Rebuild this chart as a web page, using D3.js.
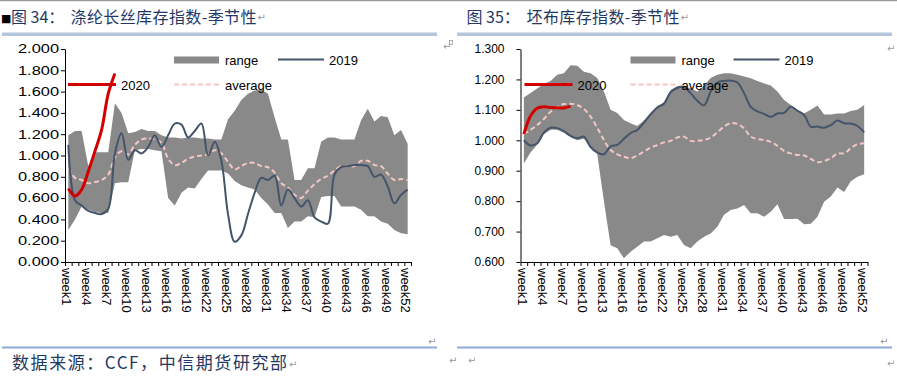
<!DOCTYPE html>
<html>
<head>
<meta charset="utf-8">
<script src="https://cdn.jsdelivr.net/npm/d3@7"></script>
<style>
body { margin: 0; background: #fff; }
text { font-family: "Liberation Sans", Arial, sans-serif; }
.cjk { font-family: "Noto Sans CJK SC", sans-serif; }
</style>
</head>
<body>
<div id="chart"></div>
<script>
// categories
const weeks = d3.range(1, 53).map(i => "week" + i);
const tickWeeks = weeks.filter((d, i) => i % 3 === 0);

// 图34 涤纶长丝库存指数
const pfTicks = [0, 0.2, 0.4, 0.6, 0.8, 1.0, 1.2, 1.4, 1.6, 1.8, 2.0];
const pfUpper = [1.19,1.23,1.23,0.90,1.03,1.03,1.03,1.49,1.40,1.21,1.22,1.25,1.23,1.23,1.19,1.17,1.17,1.16,1.17,1.17,1.16,1.16,1.15,1.15,1.34,1.42,1.52,1.58,1.61,1.62,1.58,1.36,1.15,1.15,0.77,0.77,0.88,0.88,1.13,1.17,1.17,1.15,1.15,1.15,1.33,1.44,1.32,1.37,1.36,1.19,1.24,1.11];
const pfLower = [0.30,0.40,0.52,0.49,0.47,0.46,0.46,0.74,0.75,0.75,1.05,1.06,1.06,1.05,1.04,0.60,0.53,0.65,0.70,0.69,0.78,0.86,0.86,0.86,0.83,0.76,0.72,0.70,0.68,0.60,0.54,0.46,0.46,0.32,0.38,0.38,0.43,0.42,0.61,0.62,0.62,0.52,0.52,0.52,0.49,0.43,0.43,0.38,0.36,0.30,0.27,0.26];
const pfAvg = [0.88,0.79,0.77,0.74,0.75,0.77,0.82,0.98,1.04,1.01,1.10,1.15,1.16,1.15,1.12,0.97,0.91,0.93,0.97,0.99,1.00,1.01,1.05,1.02,0.94,0.87,0.90,0.93,0.93,0.90,0.89,0.84,0.74,0.70,0.63,0.60,0.67,0.73,0.78,0.81,0.86,0.90,0.90,0.90,0.95,0.95,0.91,0.90,0.83,0.77,0.78,0.77];
const pf2019 = [1.10,0.58,0.53,0.48,0.46,0.45,0.50,1.02,1.21,0.96,1.05,1.02,1.08,1.19,1.08,1.19,1.30,1.29,1.17,1.23,1.30,1.00,1.13,0.95,0.45,0.19,0.25,0.45,0.65,0.79,0.77,0.81,0.53,0.68,0.60,0.52,0.58,0.42,0.38,0.36,0.82,0.89,0.90,0.91,0.91,0.90,0.80,0.82,0.71,0.55,0.63,0.68];
const pf2020 = [0.69,0.62,0.68,0.85,1.04,1.24,1.58,1.77];

// 图35 坯布库存指数
const gfTicks = [0.6, 0.7, 0.8, 0.9, 1.0, 1.1, 1.2, 1.3];
const gfUpper = [1.141,1.155,1.17,1.185,1.195,1.215,1.22,1.247,1.245,1.225,1.22,1.205,1.16,1.10,1.09,1.067,1.056,1.047,1.065,1.09,1.112,1.125,1.165,1.178,1.18,1.17,1.16,1.18,1.205,1.215,1.22,1.22,1.215,1.21,1.204,1.195,1.187,1.18,1.16,1.132,1.116,1.10,1.088,1.10,1.114,1.085,1.085,1.088,1.088,1.096,1.10,1.116];
const gfLower = [0.924,0.96,0.985,1.02,1.035,1.035,1.025,1.01,1.0,1.005,0.975,0.955,0.80,0.655,0.645,0.612,0.634,0.65,0.667,0.667,0.678,0.689,0.683,0.689,0.656,0.645,0.667,0.683,0.694,0.716,0.755,0.771,0.776,0.787,0.76,0.76,0.749,0.765,0.79,0.741,0.741,0.742,0.724,0.726,0.749,0.798,0.815,0.845,0.83,0.865,0.88,0.888];
const gfAvg = [1.02,1.034,1.05,1.07,1.094,1.11,1.119,1.12,1.116,1.103,1.078,1.041,1.001,0.968,0.954,0.946,0.941,0.95,0.963,0.976,0.984,0.993,0.998,1.009,1.012,0.998,0.998,1.001,1.009,1.026,1.045,1.056,1.054,1.039,1.012,1.004,1.001,0.995,0.982,0.965,0.957,0.952,0.95,0.939,0.928,0.932,0.941,0.957,0.957,0.974,0.987,0.99];
const gf2019 = [1.00,0.983,0.99,1.025,1.041,1.040,1.03,1.015,1.007,1.012,0.978,0.96,0.954,0.98,0.985,1.005,1.024,1.034,1.058,1.085,1.108,1.12,1.158,1.172,1.175,1.155,1.13,1.115,1.16,1.19,1.195,1.196,1.19,1.155,1.11,1.095,1.087,1.077,1.088,1.09,1.11,1.097,1.083,1.045,1.045,1.041,1.05,1.065,1.056,1.055,1.047,1.026];
const gf2020 = [1.02,1.08,1.105,1.11,1.108,1.107,1.106,1.112];

const width = 897, height = 384;
const navy = "#1f3864";

const svg = d3.select("#chart").append("svg")
  .attr("width", width).attr("height", height)
  .style("display", "block");

svg.append("rect").attr("width", width).attr("height", height).attr("fill", "#fff");
// page rule at top
svg.append("line").attr("x1", 0).attr("x2", width).attr("y1", 0.5).attr("y2", 0.5)
  .attr("stroke", "#9a9a9a").attr("stroke-width", 1.5);

function drawChart(c) {
  const x = d3.scaleBand().domain(weeks).range([c.x0, c.x1]);
  const y = d3.scaleLinear().domain([c.ticks[0], c.ticks[c.ticks.length - 1]]).range([262, 49]);
  const cx = d => x(d) + x.bandwidth() / 2;
  const g = svg.append("g");

  // title block
  g.append("text").attr("class", "cjk").attr("x", c.tx).attr("y", 23)
    .attr("font-size", 16).attr("fill", navy).text(c.fig);
  g.append("text").attr("class", "cjk").attr("x", c.tx2).attr("y", 23)
    .attr("font-size", 16).attr("fill", navy)
    .attr("textLength", c.titleW).attr("lengthAdjust", "spacing").text(c.title);
  g.append("text").attr("x", c.tx2 + c.titleW + 1).attr("y", 21).attr("font-size", 10)
    .attr("fill", "#999").style("font-family", "DejaVu Sans").text("\u21B5");
  g.append("rect").attr("x", c.barX0).attr("y", 32.5).attr("width", c.barX1 - c.barX0)
    .attr("height", 3.5).attr("fill", "#b4c6dc");

  // range band
  const idx = d3.range(weeks.length);
  g.append("path").datum(idx)
    .attr("fill", "#898989")
    .attr("d", d3.area().x(i => cx(weeks[i])).y0(i => y(c.lower[i])).y1(i => y(c.upper[i])));

  const smooth = d3.curveCatmullRom.alpha(0.5);
  const line = arr => d3.line().curve(smooth).x((v, i) => cx(weeks[i])).y(v => y(v))(arr);

  g.append("path").attr("d", line(c.avg)).attr("fill", "none")
    .attr("stroke", "#f5c6c3").attr("stroke-width", 2).attr("stroke-dasharray", "5,3");
  g.append("path").attr("d", line(c.s2019)).attr("fill", "none")
    .attr("stroke", "#44546a").attr("stroke-width", 2);
  g.append("path").attr("d", line(c.s2020)).attr("fill", "none")
    .attr("stroke", "#d40000").attr("stroke-width", 3);

  // y axis
  const yAxis = g.append("g").attr("transform", `translate(${c.x0},0)`)
    .call(d3.axisLeft(y).tickValues(c.ticks).tickFormat(d3.format(".3f"))
      .tickSize(4).tickSizeOuter(0).tickPadding(c.yPad));
  yAxis.selectAll("text").attr("font-size", 12).attr("fill", "#000")
    .style("font-family", "'Liberation Sans', Arial, sans-serif");
  if (c.yLabelW) {
    yAxis.selectAll("text").attr("textLength", c.yLabelW).attr("lengthAdjust", "spacingAndGlyphs");
  }
  yAxis.selectAll("line,path").attr("stroke", "#000");

  // x axis: boundary ticks
  const xb = d3.scaleLinear().domain([0, weeks.length]).range([c.x0, c.x1]);
  const xTicks = g.append("g").attr("transform", "translate(0,262)")
    .call(d3.axisBottom(xb).tickValues(d3.range(0, weeks.length + 1)).tickFormat("")
      .tickSize(4).tickSizeOuter(0));
  xTicks.selectAll("line,path").attr("stroke", "#000");

  // x labels, rotated
  const xLab = g.append("g").attr("transform", "translate(-1.5,262)")
    .call(d3.axisBottom(x).tickValues(tickWeeks).tickSize(0));
  xLab.select(".domain").remove();
  xLab.selectAll("text")
    .attr("transform", "rotate(90)")
    .attr("x", 6).attr("y", 0).attr("dy", "0.36em")
    .attr("text-anchor", "start")
    .attr("font-size", 13).attr("fill", "#000")
    .style("font-family", "'Liberation Sans', Arial, sans-serif");

  // legend
  const L = c.leg;
  g.append("rect").attr("x", L.ax).attr("y", 56.5).attr("width", 45).attr("height", 7).attr("fill", "#898989");
  g.append("text").attr("x", L.ax + 51).attr("y", 64.5).attr("font-size", 13).text("range");
  g.append("line").attr("x1", L.bx).attr("x2", L.bx + 46).attr("y1", 59.5).attr("y2", 59.5)
    .attr("stroke", "#44546a").attr("stroke-width", 2);
  g.append("text").attr("x", L.bx + 51).attr("y", 64.5).attr("font-size", 13).text("2019");
  g.append("line").attr("x1", L.cx).attr("x2", L.cx + 48).attr("y1", 84.5).attr("y2", 84.5)
    .attr("stroke", "#d40000").attr("stroke-width", 3);
  g.append("text").attr("x", L.cx + 53).attr("y", 89.5).attr("font-size", 13).text("2020");
  g.append("line").attr("x1", L.ax).attr("x2", L.ax + 45).attr("y1", 84.5).attr("y2", 84.5)
    .attr("stroke", "#f5c6c3").attr("stroke-width", 2).attr("stroke-dasharray", "5,3");
  g.append("text").attr("x", L.ax + 51).attr("y", 89.5).attr("font-size", 13).text("average");

  // footer rule
  g.append("rect").attr("x", c.barX0).attr("y", 346.5).attr("width", c.barX1 - c.barX0)
    .attr("height", 2).attr("fill", "#8faadc");
}

svg.append("text").attr("x", 1).attr("y", 22).attr("font-size", 11)
  .style("font-family", "DejaVu Sans").text("\u25A0");

drawChart({
  x0: 65, x1: 411, ticks: pfTicks, yPad: 2, yLabelW: 41,
  upper: pfUpper, lower: pfLower, avg: pfAvg, s2019: pf2019, s2020: pf2020,
  fig: "图 34：", title: "涤纶长丝库存指数-季节性", titleW: 186, tx: 11, tx2: 70.5,
  barX0: 2, barX1: 437,
  leg: { ax: 174, bx: 278, cx: 68 }
});

drawChart({
  x0: 520.5, x1: 867.5, ticks: gfTicks, yPad: 12, yLabelW: 0,
  upper: gfUpper, lower: gfLower, avg: gfAvg, s2019: gf2019, s2020: gf2020,
  fig: "图 35：", title: "坯布库存指数-季节性", titleW: 153, tx: 466.5, tx2: 526.5,
  barX0: 457, barX1: 892,
  leg: { ax: 630.5, bx: 733.5, cx: 524.5 }
});

// footer source
svg.append("text").attr("class", "cjk").attr("x", 12).attr("y", 369)
  .attr("font-size", 17).attr("fill", navy)
  .attr("textLength", 275).attr("lengthAdjust", "spacing")
  .text("数据来源：CCF，中信期货研究部");

// small anchor box
svg.append("rect").attr("x", 449.5).attr("y", 40.5).attr("width", 3).attr("height", 4)
  .attr("fill", "none").attr("stroke", "#999").attr("stroke-width", 0.8);

// paragraph marks
const marks = [[289, 368], [443, 50], [887, 52], [428, 345], [880, 345], [449, 364], [468, 364], [887, 367]];
svg.selectAll("text.mark").data(marks).enter().append("text")
  .attr("class", "mark").attr("x", d => d[0]).attr("y", d => d[1])
  .attr("font-size", 10).attr("fill", "#999").style("font-family", "DejaVu Sans")
  .text("\u21B5");
</script>
</body>
</html>
